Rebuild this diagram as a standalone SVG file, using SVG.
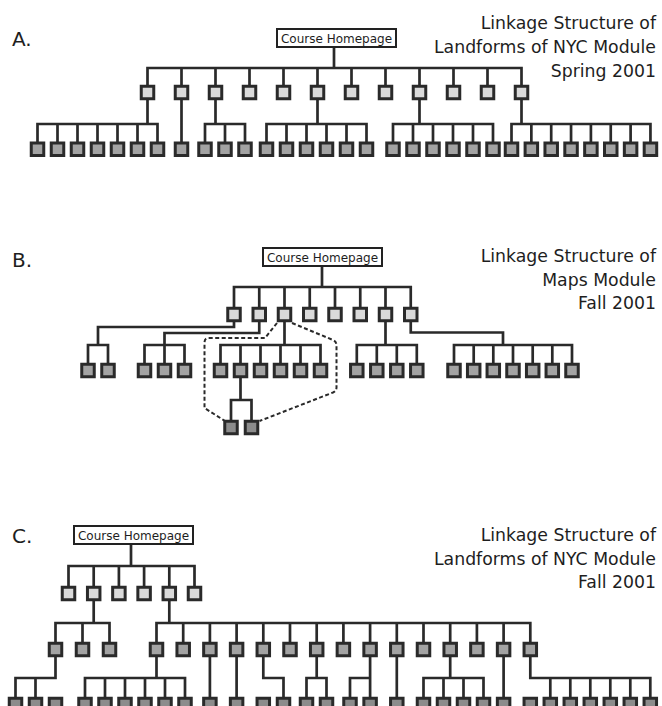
<svg xmlns="http://www.w3.org/2000/svg" width="662" height="706" viewBox="0 0 662 706">
<style>
text{font-family:"DejaVu Sans",Verdana,sans-serif;fill:#1e1e1e}
.lbl{font-size:20px}
.ttl{font-size:17.3px;text-anchor:end}
.hp{font-size:12px;text-anchor:middle}
.hpbox{fill:#fff;stroke:#222;stroke-width:2}
.l1{fill:#dadada;stroke:#2a2a2a;stroke-width:3}
.lf{fill:#a3a3a3;stroke:#2a2a2a;stroke-width:3}
.dp{fill:#8c8c8c;stroke:#2a2a2a;stroke-width:3}
.ln{fill:none;stroke:#2a2a2a;stroke-width:2.7;stroke-linecap:square}
.dash{fill:none;stroke:#2a2a2a;stroke-width:2;stroke-dasharray:4 2.5}
</style>
<rect width="662" height="706" fill="#fff"/>
<g id="connectors">
<path class="ln" d="M334,48V68 M147.5,68H521.5 M147.5,68V86 M181.5,68V86 M215.5,68V86 M249.5,68V86 M283.5,68V86 M317.5,68V86 M351.5,68V86 M385.5,68V86 M419.5,68V86 M453.5,68V86 M487.5,68V86 M521.5,68V86
M147.5,100V124 M37.5,124H157.5 M37.5,124V142 M57.5,124V142 M77.5,124V142 M97.5,124V142 M117.5,124V142 M137.5,124V142 M157.5,124V142
M181.5,100V142
M215.5,100V124 M205,124H245 M205,124V142 M225,124V142 M245,124V142
M317.5,100V124 M266.5,124H366.5 M266.5,124V142 M286.5,124V142 M306.5,124V142 M326.5,124V142 M346.5,124V142 M366.5,124V142
M419.5,100V124 M393,124H493 M393,124V142 M413,124V142 M433,124V142 M453,124V142 M473,124V142 M493,124V142
M521.5,100V124 M511.5,124H650.45 M511.5,124V142 M531.35,124V142 M551.2,124V142 M571.05,124V142 M590.9,124V142 M610.75,124V142 M630.6,124V142 M650.45,124V142"/>
<path class="ln" d="M322,267V287 M234,287H410.75 M234,287V308 M259.25,287V308 M284.5,287V308 M309.75,287V308 M335,287V308 M360.25,287V308 M385.5,287V308 M410.75,287V308
M234,322V327H98V345 M88,345H108 M88,345V363 M108,345V363
M259.25,322V333H164.5V345 M144.5,345H184.5 M144.5,345V363 M164.5,345V363 M184.5,345V363
M284.5,322V345 M220.5,345H320.5 M220.5,345V363 M240.5,345V363 M260.5,345V363 M280.5,345V363 M300.5,345V363 M320.5,345V363
M240.5,378V400 M231,400H251.5 M231,400V420 M251.5,400V420
M385.5,322V345 M356.8,345H416.8 M356.8,345V363 M376.8,345V363 M396.8,345V363 M416.8,345V363
M410.75,322V332.5H503V345 M454,345H572 M454,345V363 M473.7,345V363 M493.3,345V363 M513,345V363 M532.7,345V363 M552.3,345V363 M572,345V363"/>
<path class="dash" d="M277,323 L265,338 H209 Q204.5,338 204.5,342.5 V408 L225,421 M292,323 L333,340 Q336.5,341.5 336.5,345.5 V387.5 Q336.5,391 333,392.5 L259.5,421"/>
<path class="ln" d="M131,545V566 M68.5,566H194.5 M68.5,566V587 M93.7,566V587 M118.9,566V587 M144.1,566V587 M169.3,566V587 M194.5,566V587
M93.7,601V623 M55.5,623H109.5 M55.5,623V643 M82.5,623V643 M109.5,623V643
M169.3,601V623 M156.5,623H530.3 M156.5,623V643 M183.2,623V643 M209.9,623V643 M236.6,623V643 M263.3,623V643 M290,623V643 M316.7,623V643 M343.4,623V643 M370.1,623V643 M396.8,623V643 M423.5,623V643 M450.2,623V643 M476.9,623V643 M503.6,623V643 M530.3,623V643
M55.5,657V678 M15.5,678H55.5 M15.5,678V698 M35.5,678V698
M156.5,657V678 M85,678H185 M85,678V698 M105,678V698 M125,678V698 M145,678V698 M165,678V698 M185,678V698
M209.9,657V698 M236.6,657V698
M263.3,657V678H283.5V698
M316.7,657V678 M306.5,678H326.5 M306.5,678V698 M326.5,678V698
M370.1,657V678 M350,678H370.1V698 M350,678V698
M396.8,657V698
M450.2,657V678 M423.5,678H483.5 M423.5,678V698 M443.5,678V698 M463.5,678V698 M483.5,678V698
M503.6,657V698
M530.3,657V678 M530.3,678H650.3 M550.3,678V698 M570.3,678V698 M590.3,678V698 M610.3,678V698 M630.3,678V698 M650.3,678V698"/>
</g>
<text class="lbl" x="12" y="46">A.</text>
<text class="ttl" x="656" y="29">Linkage Structure of</text>
<text class="ttl" x="656" y="53">Landforms of NYC Module</text>
<text class="ttl" x="656" y="77">Spring 2001</text>
<text class="lbl" x="12" y="267">B.</text>
<text class="ttl" x="656" y="262">Linkage Structure of</text>
<text class="ttl" x="656" y="286">Maps Module</text>
<text class="ttl" x="656" y="309">Fall 2001</text>
<text class="lbl" x="12" y="543">C.</text>
<text class="ttl" x="656" y="541">Linkage Structure of</text>
<text class="ttl" x="656" y="565">Landforms of NYC Module</text>
<text class="ttl" x="656" y="588">Fall 2001</text>
<g id="a-home"><rect class="hpbox" x="277" y="29" width="119" height="18"/><text class="hp" x="336.5" y="42.5">Course Homepage</text></g>
<g id="a-l1-1"><rect class="l1" x="141.25" y="86.25" width="12.5" height="12.5"/></g>
<g id="a-l1-2"><rect class="l1" x="175.25" y="86.25" width="12.5" height="12.5"/></g>
<g id="a-l1-3"><rect class="l1" x="209.25" y="86.25" width="12.5" height="12.5"/></g>
<g id="a-l1-4"><rect class="l1" x="243.25" y="86.25" width="12.5" height="12.5"/></g>
<g id="a-l1-5"><rect class="l1" x="277.25" y="86.25" width="12.5" height="12.5"/></g>
<g id="a-l1-6"><rect class="l1" x="311.25" y="86.25" width="12.5" height="12.5"/></g>
<g id="a-l1-7"><rect class="l1" x="345.25" y="86.25" width="12.5" height="12.5"/></g>
<g id="a-l1-8"><rect class="l1" x="379.25" y="86.25" width="12.5" height="12.5"/></g>
<g id="a-l1-9"><rect class="l1" x="413.25" y="86.25" width="12.5" height="12.5"/></g>
<g id="a-l1-10"><rect class="l1" x="447.25" y="86.25" width="12.5" height="12.5"/></g>
<g id="a-l1-11"><rect class="l1" x="481.25" y="86.25" width="12.5" height="12.5"/></g>
<g id="a-l1-12"><rect class="l1" x="515.25" y="86.25" width="12.5" height="12.5"/></g>
<g id="a-lf-1"><rect class="lf" x="31.25" y="143" width="12.5" height="12.5"/></g>
<g id="a-lf-2"><rect class="lf" x="51.25" y="143" width="12.5" height="12.5"/></g>
<g id="a-lf-3"><rect class="lf" x="71.25" y="143" width="12.5" height="12.5"/></g>
<g id="a-lf-4"><rect class="lf" x="91.25" y="143" width="12.5" height="12.5"/></g>
<g id="a-lf-5"><rect class="lf" x="111.25" y="143" width="12.5" height="12.5"/></g>
<g id="a-lf-6"><rect class="lf" x="131.25" y="143" width="12.5" height="12.5"/></g>
<g id="a-lf-7"><rect class="lf" x="151.25" y="143" width="12.5" height="12.5"/></g>
<g id="a-lf-8"><rect class="lf" x="175.25" y="143" width="12.5" height="12.5"/></g>
<g id="a-lf-9"><rect class="lf" x="198.75" y="143" width="12.5" height="12.5"/></g>
<g id="a-lf-10"><rect class="lf" x="218.75" y="143" width="12.5" height="12.5"/></g>
<g id="a-lf-11"><rect class="lf" x="238.75" y="143" width="12.5" height="12.5"/></g>
<g id="a-lf-12"><rect class="lf" x="260.25" y="143" width="12.5" height="12.5"/></g>
<g id="a-lf-13"><rect class="lf" x="280.25" y="143" width="12.5" height="12.5"/></g>
<g id="a-lf-14"><rect class="lf" x="300.25" y="143" width="12.5" height="12.5"/></g>
<g id="a-lf-15"><rect class="lf" x="320.25" y="143" width="12.5" height="12.5"/></g>
<g id="a-lf-16"><rect class="lf" x="340.25" y="143" width="12.5" height="12.5"/></g>
<g id="a-lf-17"><rect class="lf" x="360.25" y="143" width="12.5" height="12.5"/></g>
<g id="a-lf-18"><rect class="lf" x="386.75" y="143" width="12.5" height="12.5"/></g>
<g id="a-lf-19"><rect class="lf" x="406.75" y="143" width="12.5" height="12.5"/></g>
<g id="a-lf-20"><rect class="lf" x="426.75" y="143" width="12.5" height="12.5"/></g>
<g id="a-lf-21"><rect class="lf" x="446.75" y="143" width="12.5" height="12.5"/></g>
<g id="a-lf-22"><rect class="lf" x="466.75" y="143" width="12.5" height="12.5"/></g>
<g id="a-lf-23"><rect class="lf" x="486.75" y="143" width="12.5" height="12.5"/></g>
<g id="a-lf-24"><rect class="lf" x="505.25" y="143" width="12.5" height="12.5"/></g>
<g id="a-lf-25"><rect class="lf" x="525.1" y="143" width="12.5" height="12.5"/></g>
<g id="a-lf-26"><rect class="lf" x="544.95" y="143" width="12.5" height="12.5"/></g>
<g id="a-lf-27"><rect class="lf" x="564.8" y="143" width="12.5" height="12.5"/></g>
<g id="a-lf-28"><rect class="lf" x="584.65" y="143" width="12.5" height="12.5"/></g>
<g id="a-lf-29"><rect class="lf" x="604.5" y="143" width="12.5" height="12.5"/></g>
<g id="a-lf-30"><rect class="lf" x="624.35" y="143" width="12.5" height="12.5"/></g>
<g id="a-lf-31"><rect class="lf" x="644.2" y="143" width="12.5" height="12.5"/></g>
<g id="b-home"><rect class="hpbox" x="263" y="248" width="119" height="18"/><text class="hp" x="322.5" y="261.5">Course Homepage</text></g>
<g id="b-l1-1"><rect class="l1" x="227.75" y="308.25" width="12.5" height="12.5"/></g>
<g id="b-l1-2"><rect class="l1" x="253" y="308.25" width="12.5" height="12.5"/></g>
<g id="b-l1-3"><rect class="l1" x="278.25" y="308.25" width="12.5" height="12.5"/></g>
<g id="b-l1-4"><rect class="l1" x="303.5" y="308.25" width="12.5" height="12.5"/></g>
<g id="b-l1-5"><rect class="l1" x="328.75" y="308.25" width="12.5" height="12.5"/></g>
<g id="b-l1-6"><rect class="l1" x="354" y="308.25" width="12.5" height="12.5"/></g>
<g id="b-l1-7"><rect class="l1" x="379.25" y="308.25" width="12.5" height="12.5"/></g>
<g id="b-l1-8"><rect class="l1" x="404.5" y="308.25" width="12.5" height="12.5"/></g>
<g id="b-lf-1"><rect class="lf" x="81.75" y="364.25" width="12.5" height="12.5"/></g>
<g id="b-lf-2"><rect class="lf" x="101.75" y="364.25" width="12.5" height="12.5"/></g>
<g id="b-lf-3"><rect class="lf" x="138.25" y="364.25" width="12.5" height="12.5"/></g>
<g id="b-lf-4"><rect class="lf" x="158.25" y="364.25" width="12.5" height="12.5"/></g>
<g id="b-lf-5"><rect class="lf" x="178.25" y="364.25" width="12.5" height="12.5"/></g>
<g id="b-lf-6"><rect class="lf" x="214.25" y="364.25" width="12.5" height="12.5"/></g>
<g id="b-lf-7"><rect class="lf" x="234.25" y="364.25" width="12.5" height="12.5"/></g>
<g id="b-lf-8"><rect class="lf" x="254.25" y="364.25" width="12.5" height="12.5"/></g>
<g id="b-lf-9"><rect class="lf" x="274.25" y="364.25" width="12.5" height="12.5"/></g>
<g id="b-lf-10"><rect class="lf" x="294.25" y="364.25" width="12.5" height="12.5"/></g>
<g id="b-lf-11"><rect class="lf" x="314.25" y="364.25" width="12.5" height="12.5"/></g>
<g id="b-lf-12"><rect class="lf" x="350.55" y="364.25" width="12.5" height="12.5"/></g>
<g id="b-lf-13"><rect class="lf" x="370.55" y="364.25" width="12.5" height="12.5"/></g>
<g id="b-lf-14"><rect class="lf" x="390.55" y="364.25" width="12.5" height="12.5"/></g>
<g id="b-lf-15"><rect class="lf" x="410.55" y="364.25" width="12.5" height="12.5"/></g>
<g id="b-lf-16"><rect class="lf" x="447.75" y="364.25" width="12.5" height="12.5"/></g>
<g id="b-lf-17"><rect class="lf" x="467.45" y="364.25" width="12.5" height="12.5"/></g>
<g id="b-lf-18"><rect class="lf" x="487.05" y="364.25" width="12.5" height="12.5"/></g>
<g id="b-lf-19"><rect class="lf" x="506.75" y="364.25" width="12.5" height="12.5"/></g>
<g id="b-lf-20"><rect class="lf" x="526.45" y="364.25" width="12.5" height="12.5"/></g>
<g id="b-lf-21"><rect class="lf" x="546.05" y="364.25" width="12.5" height="12.5"/></g>
<g id="b-lf-22"><rect class="lf" x="565.75" y="364.25" width="12.5" height="12.5"/></g>
<g id="b-dp-1"><rect class="dp" x="224.75" y="421.25" width="12.5" height="12.5"/></g>
<g id="b-dp-2"><rect class="dp" x="245.25" y="421.25" width="12.5" height="12.5"/></g>
<g id="c-home"><rect class="hpbox" x="74" y="526" width="119" height="18"/><text class="hp" x="133.5" y="539.5">Course Homepage</text></g>
<g id="c-l1-1"><rect class="l1" x="62.25" y="587.25" width="12.5" height="12.5"/></g>
<g id="c-l1-2"><rect class="l1" x="87.45" y="587.25" width="12.5" height="12.5"/></g>
<g id="c-l1-3"><rect class="l1" x="112.65" y="587.25" width="12.5" height="12.5"/></g>
<g id="c-l1-4"><rect class="l1" x="137.85" y="587.25" width="12.5" height="12.5"/></g>
<g id="c-l1-5"><rect class="l1" x="163.05" y="587.25" width="12.5" height="12.5"/></g>
<g id="c-l1-6"><rect class="l1" x="188.25" y="587.25" width="12.5" height="12.5"/></g>
<g id="c-l2-1"><rect class="lf" x="49.25" y="643.25" width="12.5" height="12.5"/></g>
<g id="c-l2-2"><rect class="lf" x="76.25" y="643.25" width="12.5" height="12.5"/></g>
<g id="c-l2-3"><rect class="lf" x="103.25" y="643.25" width="12.5" height="12.5"/></g>
<g id="c-l2-4"><rect class="lf" x="150.25" y="643.25" width="12.5" height="12.5"/></g>
<g id="c-l2-5"><rect class="lf" x="176.95" y="643.25" width="12.5" height="12.5"/></g>
<g id="c-l2-6"><rect class="lf" x="203.65" y="643.25" width="12.5" height="12.5"/></g>
<g id="c-l2-7"><rect class="lf" x="230.35" y="643.25" width="12.5" height="12.5"/></g>
<g id="c-l2-8"><rect class="lf" x="257.05" y="643.25" width="12.5" height="12.5"/></g>
<g id="c-l2-9"><rect class="lf" x="283.75" y="643.25" width="12.5" height="12.5"/></g>
<g id="c-l2-10"><rect class="lf" x="310.45" y="643.25" width="12.5" height="12.5"/></g>
<g id="c-l2-11"><rect class="lf" x="337.15" y="643.25" width="12.5" height="12.5"/></g>
<g id="c-l2-12"><rect class="lf" x="363.85" y="643.25" width="12.5" height="12.5"/></g>
<g id="c-l2-13"><rect class="lf" x="390.55" y="643.25" width="12.5" height="12.5"/></g>
<g id="c-l2-14"><rect class="lf" x="417.25" y="643.25" width="12.5" height="12.5"/></g>
<g id="c-l2-15"><rect class="lf" x="443.95" y="643.25" width="12.5" height="12.5"/></g>
<g id="c-l2-16"><rect class="lf" x="470.65" y="643.25" width="12.5" height="12.5"/></g>
<g id="c-l2-17"><rect class="lf" x="497.35" y="643.25" width="12.5" height="12.5"/></g>
<g id="c-l2-18"><rect class="lf" x="524.05" y="643.25" width="12.5" height="12.5"/></g>
<g id="c-l3-1"><rect class="dp" x="9.25" y="698.25" width="12.5" height="12.5"/></g>
<g id="c-l3-2"><rect class="dp" x="29.25" y="698.25" width="12.5" height="12.5"/></g>
<g id="c-l3-3"><rect class="dp" x="49.25" y="698.25" width="12.5" height="12.5"/></g>
<g id="c-l3-4"><rect class="dp" x="78.75" y="698.25" width="12.5" height="12.5"/></g>
<g id="c-l3-5"><rect class="dp" x="98.75" y="698.25" width="12.5" height="12.5"/></g>
<g id="c-l3-6"><rect class="dp" x="118.75" y="698.25" width="12.5" height="12.5"/></g>
<g id="c-l3-7"><rect class="dp" x="138.75" y="698.25" width="12.5" height="12.5"/></g>
<g id="c-l3-8"><rect class="dp" x="158.75" y="698.25" width="12.5" height="12.5"/></g>
<g id="c-l3-9"><rect class="dp" x="178.75" y="698.25" width="12.5" height="12.5"/></g>
<g id="c-l3-10"><rect class="dp" x="203.65" y="698.25" width="12.5" height="12.5"/></g>
<g id="c-l3-11"><rect class="dp" x="230.35" y="698.25" width="12.5" height="12.5"/></g>
<g id="c-l3-12"><rect class="dp" x="257.05" y="698.25" width="12.5" height="12.5"/></g>
<g id="c-l3-13"><rect class="dp" x="277.25" y="698.25" width="12.5" height="12.5"/></g>
<g id="c-l3-14"><rect class="dp" x="300.25" y="698.25" width="12.5" height="12.5"/></g>
<g id="c-l3-15"><rect class="dp" x="320.25" y="698.25" width="12.5" height="12.5"/></g>
<g id="c-l3-16"><rect class="dp" x="343.75" y="698.25" width="12.5" height="12.5"/></g>
<g id="c-l3-17"><rect class="dp" x="363.85" y="698.25" width="12.5" height="12.5"/></g>
<g id="c-l3-18"><rect class="dp" x="390.55" y="698.25" width="12.5" height="12.5"/></g>
<g id="c-l3-19"><rect class="dp" x="417.25" y="698.25" width="12.5" height="12.5"/></g>
<g id="c-l3-20"><rect class="dp" x="437.25" y="698.25" width="12.5" height="12.5"/></g>
<g id="c-l3-21"><rect class="dp" x="457.25" y="698.25" width="12.5" height="12.5"/></g>
<g id="c-l3-22"><rect class="dp" x="477.25" y="698.25" width="12.5" height="12.5"/></g>
<g id="c-l3-23"><rect class="dp" x="497.35" y="698.25" width="12.5" height="12.5"/></g>
<g id="c-l3-24"><rect class="dp" x="524.05" y="698.25" width="12.5" height="12.5"/></g>
<g id="c-l3-25"><rect class="dp" x="544.05" y="698.25" width="12.5" height="12.5"/></g>
<g id="c-l3-26"><rect class="dp" x="564.05" y="698.25" width="12.5" height="12.5"/></g>
<g id="c-l3-27"><rect class="dp" x="584.05" y="698.25" width="12.5" height="12.5"/></g>
<g id="c-l3-28"><rect class="dp" x="604.05" y="698.25" width="12.5" height="12.5"/></g>
<g id="c-l3-29"><rect class="dp" x="624.05" y="698.25" width="12.5" height="12.5"/></g>
<g id="c-l3-30"><rect class="dp" x="644.05" y="698.25" width="12.5" height="12.5"/></g>
</svg>
